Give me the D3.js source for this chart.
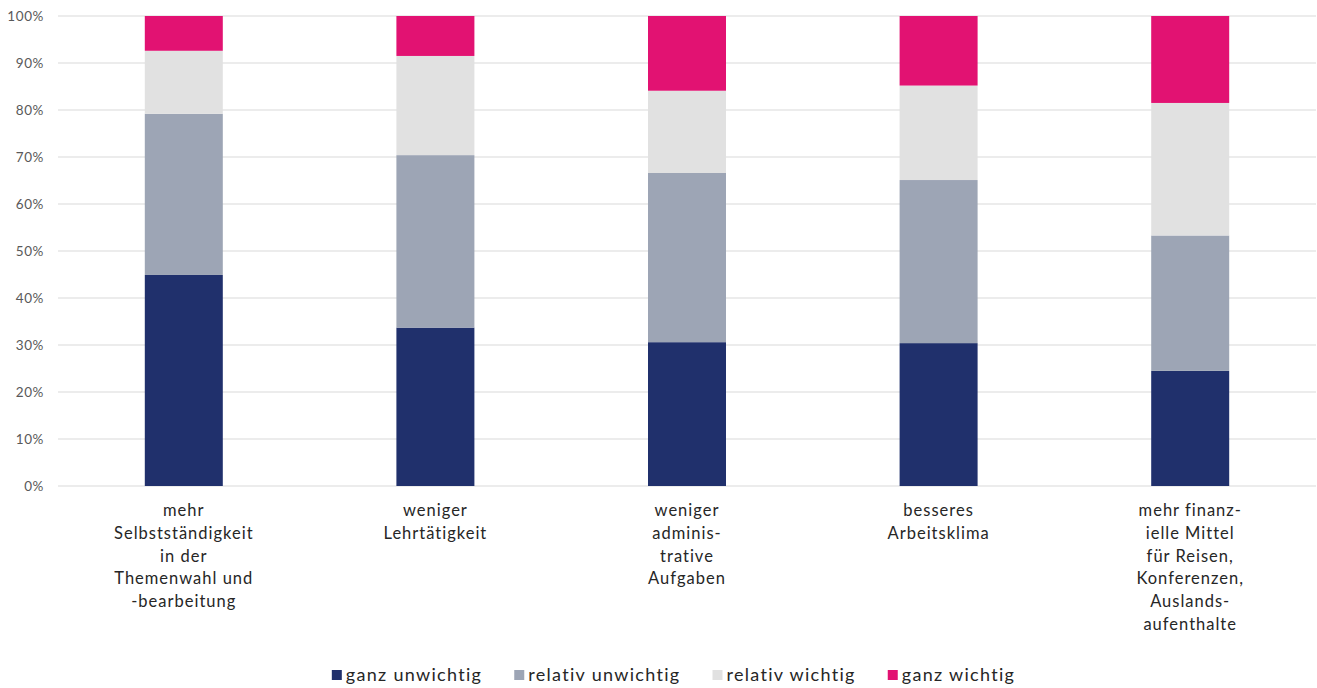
<!DOCTYPE html>
<html>
<head>
<meta charset="utf-8">
<script src="https://cdn.jsdelivr.net/npm/d3@7"></script>
<style>
  html, body { margin: 0; padding: 0; background: #fff; }
  svg { display: block; }
</style>
</head>
<body>
<svg id="chart" width="1317" height="688"></svg>
<script>
const categories = [
  ["mehr", "Selbstständigkeit", "in der", "Themenwahl und", "-bearbeitung"],
  ["weniger", "Lehrtätigkeit"],
  ["weniger", "adminis-", "trative", "Aufgaben"],
  ["besseres", "Arbeitsklima"],
  ["mehr finanz-", "ielle Mittel", "für Reisen,", "Konferenzen,", "Auslands-", "aufenthalte"]
];
const seriesNames = ["ganz unwichtig", "relativ unwichtig", "relativ wichtig", "ganz wichtig"];
const ganzUnwichtig    = [44.9, 33.7, 30.6, 30.4, 24.5];
const relativUnwichtig = [34.3, 36.7, 36.0, 34.7, 28.8];
const relativWichtig   = [13.4, 21.1, 17.5, 20.1, 28.2];
const ganzWichtig      = [7.4, 8.5, 15.9, 14.8, 18.5];
const yTicks = [0, 10, 20, 30, 40, 50, 60, 70, 80, 90, 100];
const colors = ["#20306c", "#9da5b5", "#e1e1e1", "#e21272"];

const seriesValues = [ganzUnwichtig, relativUnwichtig, relativWichtig, ganzWichtig];
const rows = categories.map((c, i) => {
  const r = { idx: i };
  seriesNames.forEach((s, j) => r[s] = seriesValues[j][i]);
  return r;
});

const svg = d3.select("#chart");
const margin = { left: 58, right: 1, top: 16, bottom: 202 };
const W = 1317, H = 688;
const x = d3.scaleBand().domain(categories.map((c, i) => i))
  .range([margin.left, W - margin.right]).paddingInner(0.69).paddingOuter(0.345);
const y = d3.scaleLinear().domain([0, 100]).range([H - margin.bottom, margin.top]);

const font = "Lato, 'Open Sans', sans-serif";

// gridlines
svg.append("g").selectAll("line").data(yTicks).join("line")
  .attr("x1", margin.left).attr("x2", W - margin.right)
  .attr("y1", d => y(d)).attr("y2", d => y(d))
  .attr("stroke", "#d9d9d9").attr("stroke-width", 1.2);

// y axis labels
const yAxis = d3.axisLeft(y).tickValues(yTicks).tickFormat(d => d + "%").tickSize(0).tickPadding(14);
const ya = svg.append("g").attr("transform", `translate(${margin.left},0)`).call(yAxis);
ya.select(".domain").remove();
ya.selectAll("text").attr("font-family", font).attr("font-size", 13.5)
  .attr("letter-spacing", 0.6).attr("fill", "#595959");

// stacked bars
const stack = d3.stack().keys(seriesNames)(rows);
svg.append("g").selectAll("g").data(stack).join("g")
  .attr("fill", (d, i) => colors[i])
  .selectAll("rect").data(d => d).join("rect")
  .attr("x", d => x(d.data.idx))
  .attr("width", x.bandwidth())
  .attr("y", d => y(d[1]))
  .attr("height", d => y(d[0]) - y(d[1]));

// category labels
const lineH = 22.8;
const cl = svg.append("g");
categories.forEach((lines, i) => {
  const cxl = x(i) + x.bandwidth() / 2;
  const t = cl.append("text")
    .attr("y", y(0) + 30)
    .attr("text-anchor", "middle")
    .attr("font-family", font).attr("font-size", 16.5)
    .attr("letter-spacing", 1.0).attr("fill", "#262626");
  lines.forEach((l, k) => {
    t.append("tspan").attr("x", cxl).attr("dy", k === 0 ? 0 : lineH).text(l);
  });
});

// legend
const lg = svg.append("g");
let cx = 0;
seriesNames.forEach((s, i) => {
  const g = lg.append("g");
  g.append("rect").attr("x", 0).attr("y", -5).attr("width", 10).attr("height", 10).attr("fill", colors[i]);
  const t = g.append("text").attr("x", 14).attr("y", 6)
    .attr("font-family", font).attr("font-size", 18).attr("letter-spacing", 1.3)
    .attr("fill", "#262626").text(s);
  const w = 14 + t.node().getComputedTextLength();
  g.attr("transform", `translate(${cx},0)`);
  cx += w + 32;
});
const totalW = cx - 32;
lg.attr("transform", `translate(${673.5 - totalW / 2},675)`);
</script>
</body>
</html>
